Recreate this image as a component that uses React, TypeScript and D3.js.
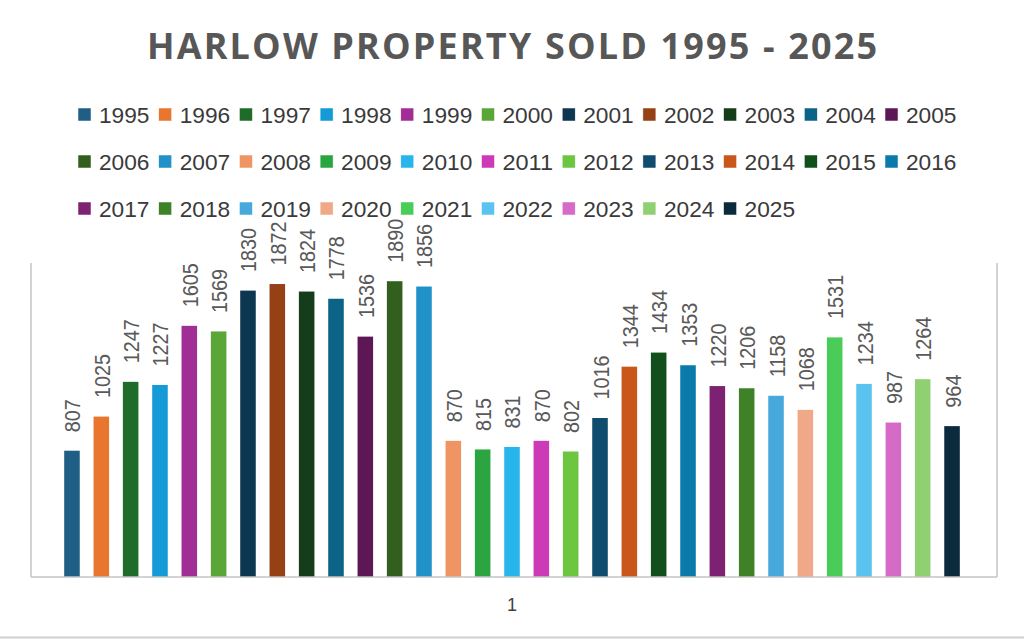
import React from "react";
import * as d3 from "d3";

const years = [
  "1995","1996","1997","1998","1999","2000","2001","2002","2003","2004","2005",
  "2006","2007","2008","2009","2010","2011","2012","2013","2014","2015","2016",
  "2017","2018","2019","2020","2021","2022","2023","2024","2025",
];
const sold = [
  807, 1025, 1247, 1227, 1605, 1569, 1830, 1872, 1824, 1778, 1536,
  1890, 1856, 870, 815, 831, 870, 802, 1016, 1344, 1434, 1353,
  1220, 1206, 1158, 1068, 1531, 1234, 987, 1264, 964,
];
const colors = [
  "#1f5f86","#e8762f","#1e6b2a","#149ad6","#a02e95","#5aa636","#0d3650","#954115","#163d19","#0b6387","#5e1755",
  "#335f1e","#2191c9","#ee9563","#2aa540","#27b5ec","#cc3ab8","#6cc640","#0f4c6e","#c9561b","#11501c","#0b7aab",
  "#7d2273","#3e8127","#47a8dc","#f0a988","#49cc58","#5cc3f1","#d56bc7","#8fd172","#0b2a3c",
];
const categoryLabel = "1";
const title = "HARLOW PROPERTY SOLD 1995 - 2025";

const W = 1024;
const H = 639;
const plotLeft = 31;
const plotRight = 997;
const plotTop = 263;
const plotBottom = 577;

export default function App() {
  const x = d3
    .scaleBand<string>()
    .domain(years)
    .range([57.3, 966.7])
    .paddingInner(0.47)
    .paddingOuter(0.235);
  const y = d3.scaleLinear().domain([0, 2000]).range([plotBottom, plotTop + 1]);

  const perRow = 11;
  const legendX0 = 78;
  const legendPitch = 80.7;
  const legendRowY = [115, 162, 209];

  return (
    <svg
      width={W}
      height={H}
      viewBox={`0 0 ${W} ${H}`}
      style={{ position: "absolute", left: 0, top: 0, display: "block", background: "#fff" }}
    >
      <rect x={0} y={0} width={W} height={H} fill="#fff" />
      <text
        x={147}
        y={59}
        textLength={730}
        lengthAdjust="spacing"
        fontFamily="'Open Sans', 'Liberation Sans', sans-serif"
        fontWeight={700}
        fontSize={36}
        fill="#575757"
      >
        {title}
      </text>

      {years.map((yr, i) => {
        const row = Math.floor(i / perRow);
        const col = i % perRow;
        const lx = legendX0 + col * legendPitch;
        const ly = legendRowY[row];
        return (
          <g key={"lg" + yr}>
            <rect x={lx} y={ly - 7} width={13} height={13} fill={colors[i]} stroke="#ffffff" strokeWidth={0.5} />
            <text
              x={lx + 21}
              y={ly}
              dy="0.36em"
              textLength={50.5}
              lengthAdjust="spacingAndGlyphs"
              fontFamily="'Liberation Sans', Arial, sans-serif"
              fontSize={22.5}
              fill="#3a3a3a"
            >
              {yr}
            </text>
          </g>
        );
      })}

      <line x1={plotLeft} x2={plotLeft} y1={plotTop} y2={plotBottom} stroke="#c4c4c4" strokeWidth={1.5} />
      <line x1={plotRight} x2={plotRight} y1={plotTop} y2={plotBottom} stroke="#c4c4c4" strokeWidth={1.5} />

      {years.map((yr, i) => {
        const bx = x(yr) as number;
        const top = y(sold[i]);
        const cx = bx + x.bandwidth() / 2;
        return (
          <g key={"b" + yr}>
            <rect x={bx} y={top} width={x.bandwidth()} height={plotBottom - top} fill={colors[i]} />
            <text
              transform={`translate(${cx + 0.5},${top - 18.5}) rotate(-90) scale(1,1.12)`}
              dy="0.36em"
              textAnchor="start"
              fontFamily="'Liberation Sans', Arial, sans-serif"
              fontSize={19.8}
              fill="#595959"
            >
              {sold[i]}
            </text>
          </g>
        );
      })}

      <line x1={plotLeft} x2={plotRight} y1={plotBottom} y2={plotBottom} stroke="#c4c4c4" strokeWidth={1.5} />

      <text
        x={(plotLeft + plotRight) / 2 - 2}
        y={605}
        dy="0.36em"
        textAnchor="middle"
        fontFamily="'Liberation Sans', Arial, sans-serif"
        fontSize={18}
        fill="#404040"
      >
        {categoryLabel}
      </text>

      <line x1={0} x2={W} y1={637.5} y2={637.5} stroke="#cfcfcf" strokeWidth={2} />
    </svg>
  );
}
